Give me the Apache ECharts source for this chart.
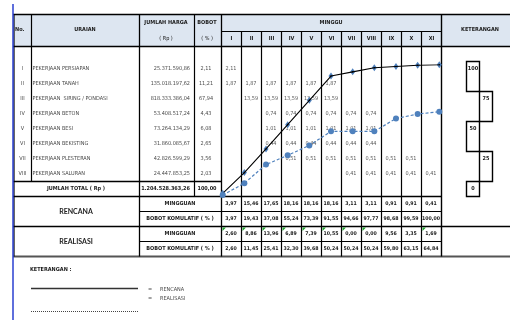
<!DOCTYPE html>
<html>
<head>
<meta charset="utf-8">
<script src="https://cdn.jsdelivr.net/npm/echarts@6/dist/echarts.min.js"></script>
<style>
  html, body { margin: 0; padding: 0; background: #fff; }
  #c { width: 510px; height: 320px; }
</style>
</head>
<body>
<div id="c"></div>
<script>
// ---- schedule data ----
const weeks = ['I', 'II', 'III', 'IV', 'V', 'VI', 'VII', 'VIII', 'IX', 'X', 'XI'];
const taskNo = ['I', 'II', 'III', 'IV', 'V', 'VI', 'VII', 'VIII'];
const taskNames = [
  'PEKERJAAN PERSIAPAN', 'PEKERJAAN TANAH', 'PEKERJAAN  SIRING / PONDASI', 'PEKERJAAN BETON',
  'PEKERJAAN BESI', 'PEKERJAAN BEKISTING', 'PEKERJAAN PLESTERAN', 'PEKERJAAN SALURAN'
];
const taskCost = [
  '25.371.590,86', '135.018.197,62', '818.333.386,04', '53.408.517,24',
  '73.264.134,29', '31.860.085,67', '42.826.599,29', '24.447.853,25'
];
const taskWeight = [2.11, 11.21, 67.94, 4.43, 6.08, 2.65, 3.56, 2.03];
// weekly share of each task, week I .. XI
const taskWeekly = [
  [2.11, null, null, null, null, null, null, null, null, null, null],
  [1.87, 1.87, 1.87, 1.87, 1.87, 1.87, null, null, null, null, null],
  [null, 13.59, 13.59, 13.59, 13.59, 13.59, null, null, null, null, null],
  [null, null, 0.74, 0.74, 0.74, 0.74, 0.74, 0.74, null, null, null],
  [null, null, 1.01, 1.01, 1.01, 1.01, 1.01, 1.01, null, null, null],
  [null, null, 0.44, 0.44, 0.44, 0.44, 0.44, 0.44, null, null, null],
  [null, null, null, 0.51, 0.51, 0.51, 0.51, 0.51, 0.51, 0.51, null],
  [null, null, null, null, null, null, 0.41, 0.41, 0.41, 0.41, 0.41]
];
const totalCost = '1.204.528.363,26';
const totalWeight = 100.00;

const planWeekly   = [3.97, 15.46, 17.65, 18.16, 18.16, 18.16, 3.11, 3.11, 0.91, 0.91, 0.41];
const planCum      = [3.97, 19.43, 37.08, 55.24, 73.39, 91.55, 94.66, 97.77, 98.68, 99.59, 100.00];
const actualWeekly = [2.60, 8.86, 13.96, 6.89, 7.39, 10.55, 0.00, 0.00, 9.56, 3.35, 1.69];
const actualCum    = [2.60, 11.45, 25.41, 32.30, 39.68, 50.24, 50.24, 50.24, 59.80, 63.15, 64.84];
// cells entered as text (spreadsheet warning corner)
const actualTextCell = [1, 1, 1, 1, 1, 1, 1, 1, 0, 0, 1];

const scaleTicks = [100, 75, 50, 25, 0];

// ---- helpers ----
const FONT = "'Liberation Sans Narrow','Arial Narrow','DejaVu Sans Condensed',sans-serif";
const fmt = v => v.toFixed(2).replace('.', ',');
const rowY = i => 69 + 15 * i;          // text centre of table row i
const G = [];

function hl(x1, x2, y, w, c) {
  G.push({ type: 'line', z: 1, silent: true, shape: { x1: x1, y1: y, x2: x2, y2: y },
    style: { stroke: c || '#000', lineWidth: w || 1.2 } });
}
function vl(x, y1, y2, w, c) {
  G.push({ type: 'line', z: 1, silent: true, shape: { x1: x, y1: y1, x2: x, y2: y2 },
    style: { stroke: c || '#000', lineWidth: w || 1.2 } });
}
function tx(x, y, t, o) {
  G.push({ type: 'text', z: 2, silent: true, x: x, y: y,
    style: Object.assign({ text: t, fill: '#4a4a4a', fontSize: 5.5, fontFamily: FONT,
      align: 'center', verticalAlign: 'middle' }, o || {}) });
}
const B = { fontWeight: 'bold', fill: '#1a1a1a' };

// header background
G.push({ type: 'rect', z: 0, silent: true, shape: { x: 14, y: 14.5, width: 496, height: 32 },
  style: { fill: '#dde6f1' } });

// horizontal rules
hl(13, 510, 14.5, 1.6);
hl(221.5, 441.5, 31.5);
hl(13, 510, 46.5, 1.3);
hl(13, 221.5, 181.5, 1.4);
hl(13, 441.5, 196.5, 1.5);
hl(139.5, 441.5, 211.5);
hl(13, 510, 226.5, 1.5);
hl(139.5, 441.5, 241.5);
hl(13, 510, 256.5, 2, '#555');

// vertical rules
vl(14, 14.5, 256.5);
vl(31.5, 14.5, 181.5);
vl(139.5, 14.5, 256.5, 1.3);
vl(194.5, 14.5, 196.5);
vl(221.5, 14.5, 256.5, 1.3);
for (let k = 1; k < weeks.length; k++) vl(221.5 + 20 * k, 31.5, 256.5);
vl(441.5, 14.5, 256.5, 1.4);
vl(13, 4, 320, 1.5, '#2a3fd0');

// header texts
tx(15, 30, 'No.', Object.assign({ align: 'left' }, B));
tx(85, 29.5, 'URAIAN', B);
tx(166, 22.5, 'JUMLAH HARGA', B);
tx(166, 38.5, '( Rp )', { fill: '#1a1a1a' });
tx(207, 22.5, 'BOBOT', B);
tx(207, 38.5, '( % )', { fill: '#1a1a1a' });
tx(331, 22.5, 'MINGGU', B);
weeks.forEach((w, k) => tx(231.5 + 20 * k, 38.5, w, B));
tx(480, 29.5, 'KETERANGAN', B);

// task rows
taskNames.forEach((name, i) => {
  const y = rowY(i);
  tx(22.5, y, taskNo[i]);
  tx(32.5, y, name, { align: 'left' });
  tx(190, y, taskCost[i], { align: 'right' });
  tx(206, y, fmt(taskWeight[i]));
});
tx(76, rowY(8), 'JUMLAH TOTAL ( Rp )', B);
tx(190, rowY(8), totalCost, Object.assign({ align: 'right' }, B));
tx(207, rowY(8), fmt(totalWeight), B);

// summary rows
const BIG = { fontSize: 7, fontWeight: 'bold', fontFamily: 'Lato, sans-serif', fill: '#222' };
tx(76, 211.5, 'RENCANA', BIG);
tx(76, 241.5, 'REALISASI', BIG);
tx(180, rowY(9), 'MINGGUAN', B);
tx(180, rowY(10), 'BOBOT KOMULATIF ( % )', B);
tx(180, rowY(11), 'MINGGUAN', B);
tx(180, rowY(12), 'BOBOT KOMULATIF ( % )', B);

// percentage scale in the KETERANGAN column
scaleTicks.forEach((t, i) => {
  const x = i % 2 ? 479.5 : 466.5;
  const y = 61.5 + 30 * i;
  G.push({ type: 'rect', z: 1, silent: true,
    shape: { x: x, y: y, width: 13, height: i === scaleTicks.length - 1 ? 15 : 30 },
    style: { fill: 'none', stroke: '#000', lineWidth: 1.4 } });
  tx(x + 6.5, y + 7, String(t), B);
});

// legend notes under the table
tx(30, 270, 'KETERANGAN :', Object.assign({ align: 'left' }, B));
hl(31, 138, 288.5, 1.5, '#333');
tx(150, 290, '=');
tx(160, 290, 'RENCANA', { align: 'left' });
tx(150, 298.5, '=');
tx(160, 298.5, 'REALISASI', { align: 'left' });
G.push({ type: 'line', z: 1, silent: true, shape: { x1: 31, y1: 311.5, x2: 138, y2: 311.5 },
  style: { stroke: '#444', lineWidth: 1, lineDash: [1, 1] } });

// ---- week cell values, placed on the table grid ----
const rowKeys = taskNames.concat(['JUMLAH TOTAL', 'RENCANA MINGGUAN', 'RENCANA BOBOT KOMULATIF',
  'REALISASI MINGGUAN', 'REALISASI BOBOT KOMULATIF']);
const cells = [];
taskWeekly.forEach((row, i) => row.forEach((v, k) => { if (v !== null) cells.push([k, i, v, 0, 0]); }));
planWeekly.forEach((v, k) => cells.push([k, 9, v, 1, 0]));
planCum.forEach((v, k) => cells.push([k, 10, v, 1, 0]));
actualWeekly.forEach((v, k) => cells.push([k, 11, v, 1, actualTextCell[k]]));
actualCum.forEach((v, k) => cells.push([k, 12, v, 1, 0]));

function renderCell(params, api) {
  const p = api.coord([api.value(0), api.value(1)]);
  const s = api.size([1, 1]);
  const strong = api.value(3) === 1;
  const children = [{
    type: 'text', x: p[0] - 0.5, y: p[1],
    style: { text: fmt(api.value(2)), fill: strong ? '#1a1a1a' : '#5a5a5a',
      fontSize: strong ? 5.2 : 5.5, fontFamily: FONT, fontWeight: strong ? 'bold' : 'normal',
      align: 'center', verticalAlign: 'middle' }
  }];
  if (api.value(4) === 1) {
    const x0 = p[0] - s[0] / 2 + 1, y0 = p[1] - s[1] / 2 + 1;
    children.push({ type: 'polygon', shape: { points: [[x0, y0], [x0 + 3.5, y0], [x0, y0 + 3.5]] },
      style: { fill: '#1f9e2c' } });
  }
  return { type: 'group', children: children };
}

const chart = echarts.init(document.getElementById('c'), null, { renderer: 'canvas' });
chart.setOption({
  animation: false,
  backgroundColor: '#fff',
  grid: [
    { left: 222.7, top: 64.7, width: 216.6, height: 133.9 },
    { left: 221.5, top: 61.5, width: 220, height: 195 }
  ],
  xAxis: [
    { type: 'category', gridIndex: 0, data: weeks, boundaryGap: false, show: false },
    { type: 'category', gridIndex: 1, data: weeks, boundaryGap: true, show: false }
  ],
  yAxis: [
    { type: 'value', gridIndex: 0, min: 0, max: 100, show: false },
    { type: 'category', gridIndex: 1, data: rowKeys, inverse: true, show: false }
  ],
  graphic: { elements: G },
  series: [
    {
      name: 'Sel mingguan', type: 'custom', xAxisIndex: 1, yAxisIndex: 1, z: 3,
      encode: { x: 0, y: 1 }, renderItem: renderCell, data: cells, silent: true
    },
    {
      name: 'Rencana', type: 'line', xAxisIndex: 0, yAxisIndex: 0, z: 4, data: planCum,
      symbol: 'diamond', symbolSize: [5, 7], showAllSymbol: true,
      itemStyle: { color: '#4f81bd' }, lineStyle: { opacity: 0 }, silent: true
    },
    {
      name: 'Rencana kurva', type: 'line', xAxisIndex: 0, yAxisIndex: 0, z: 5, data: planCum,
      symbol: 'circle', symbolSize: 1.6, showAllSymbol: true,
      itemStyle: { color: '#000' }, lineStyle: { color: '#000', width: 1.1 }, silent: true
    },
    {
      name: 'Realisasi', type: 'line', xAxisIndex: 0, yAxisIndex: 0, z: 6, data: actualCum,
      symbol: 'circle', symbolSize: 6, showAllSymbol: true,
      itemStyle: { color: '#4f81bd' },
      lineStyle: { color: '#4f81bd', width: 1.2, type: [3, 2] }, silent: true
    }
  ]
});
</script>
</body>
</html>
